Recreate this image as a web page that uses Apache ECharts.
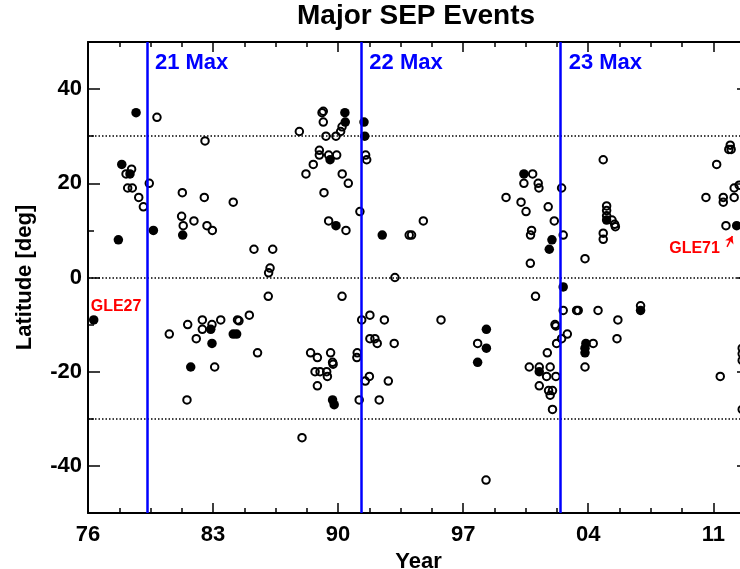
<!DOCTYPE html>
<html>
<head>
<meta charset="utf-8">
<title>Major SEP Events</title>
<script src="https://cdn.jsdelivr.net/npm/echarts@6/dist/echarts.min.js"></script>
<style>
  html, body { margin: 0; padding: 0; background: #fff; }
  #chart { width: 740px; height: 569px; }
</style>
</head>
<body>
<div id="chart"></div>
<script>
// axis ranges and ticks
var xMin = 1976, xMax = 2013;
var yMin = -50, yMax = 50;
var yearTicks = [1976, 1983, 1990, 1997, 2004, 2011];
var yearMinorTicks = [1977.75, 1979.5, 1981.25, 1984.75, 1986.5, 1988.25, 1991.75, 1993.5, 1995.25,
    1998.75, 2000.5, 2002.25, 2005.75, 2007.5, 2009.25, 2012.75];
var latTicks = [-40, -20, 0, 20, 40];
var latMinorTicks = [-30, -10, 10, 30];

// solar cycle maxima and reference latitudes
var cycleMax = [1979.3, 1991.3, 2002.46];
var cycleNames = ['21 Max', '22 Max', '23 Max'];
var refLats = [30, 0, -30];

// [year, latitude] of events, open circles
var openEvents = [
    [1978.13, 22], [1978.44, 23], [1978.22, 19], [1978.48, 19], [1978.84, 17], [1979.10, 15], [1979.43, 20], [1979.86, 34],
    [1981.24, 13], [1981.28, 18], [1981.33, 11], [1981.93, 12], [1982.51, 17], [1982.55, 29], [1982.66, 11], [1982.96, 10],
    [1984.13, 16], [1985.29, 6], [1986.34, 6], [1986.19, 2], [1986.11, 1],
    [1987.83, 31], [1988.20, 22], [1988.61, 24], [1988.95, 27], [1988.95, 26], [1989.10, 35], [1989.17, 35.3], [1989.17, 33],
    [1989.21, 18], [1989.32, 30], [1989.47, 26], [1989.47, 12], [1989.88, 30], [1989.92, 26], [1990.14, 31], [1990.22, 32],
    [1990.23, 22], [1990.44, 10], [1990.57, 20], [1991.22, 14], [1991.54, 26], [1991.60, 25],
    [1993.18, 0], [1993.98, 9], [1994.11, 9], [1994.77, 12],
    [1999.40, 17], [2000.24, 16], [2000.40, 20], [2000.52, 14], [2000.76, 3], [2000.77, 9], [2000.83, 10], [2000.89, 22],
    [2001.20, 20], [2001.24, 19], [2001.76, 15], [2002.10, 12], [2002.51, 19], [2002.60, 9], [2003.82, 4],
    [2004.84, 25], [2004.84, 9.4], [2004.84, 8.1], [2005.03, 15.2], [2005.03, 14.2], [2005.03, 13.1], [2005.33, 12.2],
    [2005.48, 11.3], [2005.52, 10.8],
    [2010.59, 17], [2011.19, 24], [2011.56, 17], [2011.56, 16], [2011.71, 11], [2011.87, 27.2], [2011.95, 28.1], [2012.0, 27.2],
    [2012.17, 17], [2012.17, 19], [2012.45, 19.6],
    [1980.55, -12], [1981.54, -26], [1981.58, -10], [1982.06, -13], [1982.40, -9], [1982.40, -11], [1982.94, -10], [1983.09, -19],
    [1983.43, -9], [1984.37, -9], [1984.45, -9.2], [1985.03, -8], [1985.49, -16], [1986.09, -4], [1987.98, -34],
    [1988.46, -16], [1988.71, -20], [1988.84, -17], [1988.84, -23], [1988.99, -20], [1989.36, -20], [1989.40, -21], [1989.58, -16],
    [1989.69, -18], [1989.72, -18.4], [1990.22, -4], [1991.05, -17], [1991.07, -16], [1991.18, -26], [1991.32, -9], [1991.52, -22],
    [1991.75, -21], [1991.78, -8], [1991.78, -13], [1992.06, -13], [1992.19, -14], [1992.30, -26], [1992.59, -9], [1992.81, -22],
    [1993.14, -14], [1995.76, -9], [1997.81, -14], [1998.28, -43],
    [2000.70, -19], [2001.05, -4], [2001.26, -19], [2001.26, -23], [2001.67, -21], [2001.71, -16], [2001.78, -24], [2001.87, -19],
    [2001.87, -25], [2002.00, -24], [2002.00, -28], [2002.14, -10], [2002.19, -10.3], [2002.19, -21], [2002.23, -14], [2002.51, -13],
    [2002.60, -7], [2002.83, -12], [2003.35, -7], [2003.44, -7], [2003.82, -19], [2004.28, -14], [2004.55, -7], [2005.61, -13],
    [2005.66, -9], [2006.93, -6],
    [2011.39, -21], [2012.62, -15], [2012.62, -16.2], [2012.62, -17.6], [2012.62, -28]
];

// [year, latitude] of events, filled circles
var filledEvents = [
    [1977.70, 8], [1977.89, 24], [1978.35, 22], [1978.69, 35], [1979.66, 10], [1981.30, 9],
    [1989.55, 25], [1989.88, 11], [1990.38, 35], [1990.40, 33], [1991.45, 33], [1991.49, 30], [1992.47, 9],
    [2000.40, 22], [2001.82, 6], [2001.97, 8], [2002.60, -2], [2005.03, 12.2], [2012.31, 11],
    [1976.32, -9], [1981.75, -19], [1982.87, -11], [1982.94, -14], [1984.13, -12], [1984.32, -12],
    [1989.69, -26], [1989.78, -27], [1997.81, -18], [1998.30, -11], [1998.30, -15],
    [2001.26, -20], [2003.82, -15], [2003.82, -16], [2003.87, -14], [2006.93, -7]
];

// GLE annotations: text anchor, and arrow for GLE71
var gleLabels = [
    { name: 'GLE27', value: [1976.15, -6.2], side: 'right' },
    { name: 'GLE71', value: [2011.37, 6.2], side: 'left' }
];
var gle71Arrow = [[2011.77, 6.5], [2012.07, 8.8]];

var FONT = '"Liberation Sans", Arial, Helvetica, sans-serif';
var textBold = { fontFamily: FONT, fontWeight: 'bold', fontSize: 22, color: '#000' };

function axisDef(kind, position, ticks, tickLen, showLine, extra) {
    var ax = {
        type: 'value',
        gridIndex: 0,
        position: position,
        min: kind === 'x' ? xMin : yMin,
        max: kind === 'x' ? xMax : yMax,
        splitLine: { show: false },
        axisLine: { show: showLine, onZero: false, lineStyle: { color: '#000', width: 2 } },
        axisTick: {
            show: true, inside: true, length: tickLen, customValues: ticks,
            lineStyle: { color: '#000', width: 1.5 }
        },
        axisLabel: { show: false }
    };
    return Object.assign(ax, extra || {});
}

var myChart = echarts.init(document.getElementById('chart'));

myChart.setOption({
    animation: false,
    backgroundColor: '#fff',
    title: {
        text: 'Major SEP Events',
        left: 297,
        top: 2,
        padding: 0,
        textStyle: { fontFamily: FONT, fontWeight: 'bold', fontSize: 28, color: '#000' }
    },
    grid: { left: 88, right: -9, top: 42, bottom: 56, containLabel: false, outerBoundsMode: 'none' },
    xAxis: [
        axisDef('x', 'bottom', yearTicks, 10, true, {
            name: 'Year',
            nameLocation: 'middle',
            nameGap: 34,
            nameTextStyle: textBold,
            axisLabel: Object.assign({
                show: true,
                customValues: yearTicks,
                margin: 11,
                formatter: function (v) { return String(v % 100).padStart(2, '0'); }
            }, textBold)
        }),
        axisDef('x', 'bottom', yearMinorTicks, 5, false),
        axisDef('x', 'top', yearTicks, 10, true),
        axisDef('x', 'top', yearMinorTicks, 5, false)
    ],
    yAxis: [
        axisDef('y', 'left', latTicks, 12, true, {
            name: 'Latitude [deg]',
            nameLocation: 'middle',
            nameGap: 52,
            nameTextStyle: textBold,
            axisLabel: Object.assign({
                show: true,
                customValues: latTicks,
                margin: 6
            }, textBold)
        }),
        axisDef('y', 'left', latMinorTicks, 6, false),
        axisDef('y', 'right', latTicks, 12, true),
        axisDef('y', 'right', latMinorTicks, 6, false)
    ],
    series: [
        {
            name: 'Open',
            type: 'scatter',
            data: openEvents,
            symbol: 'circle',
            symbolSize: 7.5,
            itemStyle: { color: 'rgba(0,0,0,0)', borderColor: '#000', borderWidth: 2, opacity: 1 },
            z: 3,
            markLine: {
                silent: true,
                symbol: 'none',
                animation: false,
                label: { show: false },
                data: refLats.map(function (v) {
                    return { yAxis: v, lineStyle: { color: '#000', width: 1.5, type: [1.5, 2], opacity: 1 } };
                }).concat(cycleMax.map(function (v) {
                    return { xAxis: v, lineStyle: { color: '#0000ff', width: 2.5, type: 'solid', opacity: 1 } };
                }))
            }
        },
        {
            name: 'Filled',
            type: 'scatter',
            data: filledEvents,
            symbol: 'circle',
            symbolSize: 9.5,
            itemStyle: { color: '#000', opacity: 1 },
            z: 4
        },
        {
            name: 'Cycle labels',
            type: 'scatter',
            silent: true,
            symbolSize: 0,
            itemStyle: { opacity: 1 },
            data: cycleMax.map(function (v, i) { return { name: cycleNames[i], value: [v, 45.5] }; }),
            label: {
                show: true, formatter: '{b}', position: 'right', distance: 8,
                fontFamily: FONT, fontWeight: 'bold', fontSize: 22, color: '#0000ff'
            },
            z: 5
        },
        {
            name: 'GLE',
            type: 'scatter',
            silent: true,
            symbolSize: 0,
            itemStyle: { opacity: 1 },
            data: gleLabels.map(function (g) {
                return { name: g.name, value: g.value, label: { position: g.side } };
            }),
            label: {
                show: true, formatter: '{b}', distance: 0,
                fontFamily: FONT, fontWeight: 'bold', fontSize: 16, color: '#ff0000'
            },
            markLine: {
                silent: true,
                animation: false,
                symbol: ['none', 'arrow'],
                symbolSize: 7,
                label: { show: false },
                lineStyle: { color: '#ff0000', width: 1.5, type: 'solid', opacity: 1 },
                data: [[{ coord: gle71Arrow[0] }, { coord: gle71Arrow[1] }]]
            },
            z: 5
        }
    ]
});
</script>
</body>
</html>
